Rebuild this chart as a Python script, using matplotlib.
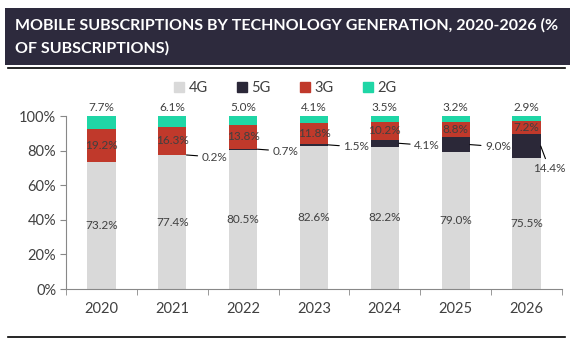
import matplotlib
matplotlib.use("Agg")
import matplotlib.pyplot as plt
from matplotlib.patches import Rectangle, Patch
from matplotlib.lines import Line2D

years = ["2020", "2021", "2022", "2023", "2024", "2025", "2026"]
g4 = [73.2, 77.4, 80.5, 82.6, 82.2, 79.0, 75.5]
g5 = [0.0, 0.2, 0.7, 1.5, 4.1, 9.0, 14.4]
g3 = [19.2, 16.3, 13.8, 11.8, 10.2, 8.8, 7.2]
g2 = [7.7, 6.1, 5.0, 4.1, 3.5, 3.2, 2.9]

c4, c5, c3, c2 = "#d9d9d9", "#2b2838", "#c0392b", "#1fd6a6"
txt = "#404040"
plt.rcParams["font.family"] = ["Lato", "DejaVu Sans"]

fig = plt.figure(figsize=(5.74, 3.48), dpi=100)

# title box
fig.patches.append(Rectangle((0.009, 0.813), 0.984, 0.164, transform=fig.transFigure,
                             facecolor="#2d2a3d", edgecolor="none", zorder=0))
t1 = fig.text(0.026, 0.914, "MOBILE SUBSCRIPTIONS BY TECHNOLOGY GENERATION, 2020-2026 (%",
              color="white", fontsize=12, fontweight="bold", va="baseline")
t2 = fig.text(0.026, 0.848, "OF SUBSCRIPTIONS)", color="white", fontsize=12,
              fontweight="bold", va="baseline")
# shrink title so the first line spans ~542 px like the reference
r = fig.canvas.get_renderer()
tw = t1.get_window_extent(r).width
t1.set_fontsize(12 * 542 / tw)
t2.set_fontsize(12 * 542 / tw)

fig.add_artist(Line2D([0.014, 0.985], [0.805, 0.805], transform=fig.transFigure, color="black", lw=1.2))
fig.add_artist(Line2D([0.014, 0.985], [0.032, 0.032], transform=fig.transFigure, color="black", lw=1.2))

ax = fig.add_axes([0.115, 0.1695, 0.864, 0.497])
x = list(range(len(years)))
w = 0.4
b5 = g4
b3 = [a + b for a, b in zip(g4, g5)]
b2 = [a + b for a, b in zip(b3, g3)]
ax.bar(x, g4, w, color=c4)
ax.bar(x, g5, w, bottom=b5, color=c5)
ax.bar(x, g3, w, bottom=b3, color=c3)
ax.bar(x, g2, w, bottom=b2, color=c2)

fs = 8.5
for i in x:
    ax.text(i, g4[i] / 2, f"{g4[i]:.1f}%", ha="center", va="center", fontsize=fs, color=txt)
    ax.text(i, b3[i] + g3[i] / 2, f"{g3[i]:.1f}%", ha="center", va="center", fontsize=fs, color=txt)
    ax.text(i, b2[i] + g2[i] + 1.5, f"{g2[i]:.1f}%", ha="center", va="bottom", fontsize=fs, color=txt)
    if g5[i] > 0:
        mid = b5[i] + g5[i] / 2
        if i == len(years) - 1:
            off, ha = (6, -16), "center"
        else:
            off, ha = (11, -1.5), "left"
        ax.annotate(f"{g5[i]:.1f}%", xy=(i + w / 2, mid), xytext=off, textcoords="offset points",
                    ha=ha, va="center", fontsize=fs, color=txt,
                    arrowprops=dict(arrowstyle="-", color="black", lw=0.8, shrinkA=1, shrinkB=0))

ax.set_xlim(-0.5, len(years) - 0.5)
ax.set_ylim(0, 100)
ax.set_yticks(range(0, 101, 20))
ax.set_yticklabels([f"{v}%" for v in range(0, 101, 20)])
ax.set_xticks(x)
ax.set_xticklabels(years)
ax.set_xticks([i - 0.5 for i in range(len(years) + 1)], minor=True)
ax.tick_params(axis="x", which="major", length=0, pad=9, labelsize=10.5, labelcolor=txt)
ax.tick_params(axis="x", which="minor", length=4, color="#888888")
ax.tick_params(axis="y", length=4, color="#888888", labelsize=10.5, labelcolor=txt, pad=3)
for s in ["top", "right"]:
    ax.spines[s].set_visible(False)
ax.spines["left"].set_color("#888888")
ax.spines["bottom"].set_color("#888888")

handles = [Patch(color=c) for c in (c4, c5, c3, c2)]
fig.legend(handles, ["4G", "5G", "3G", "2G"], ncol=4, loc="center", bbox_to_anchor=(0.497, 0.747),
           frameon=False, fontsize=10.5, handlelength=0.7, handleheight=0.7, handletextpad=0.3,
           columnspacing=2.0, labelcolor=txt)

fig.savefig("out.png", dpi=100)
